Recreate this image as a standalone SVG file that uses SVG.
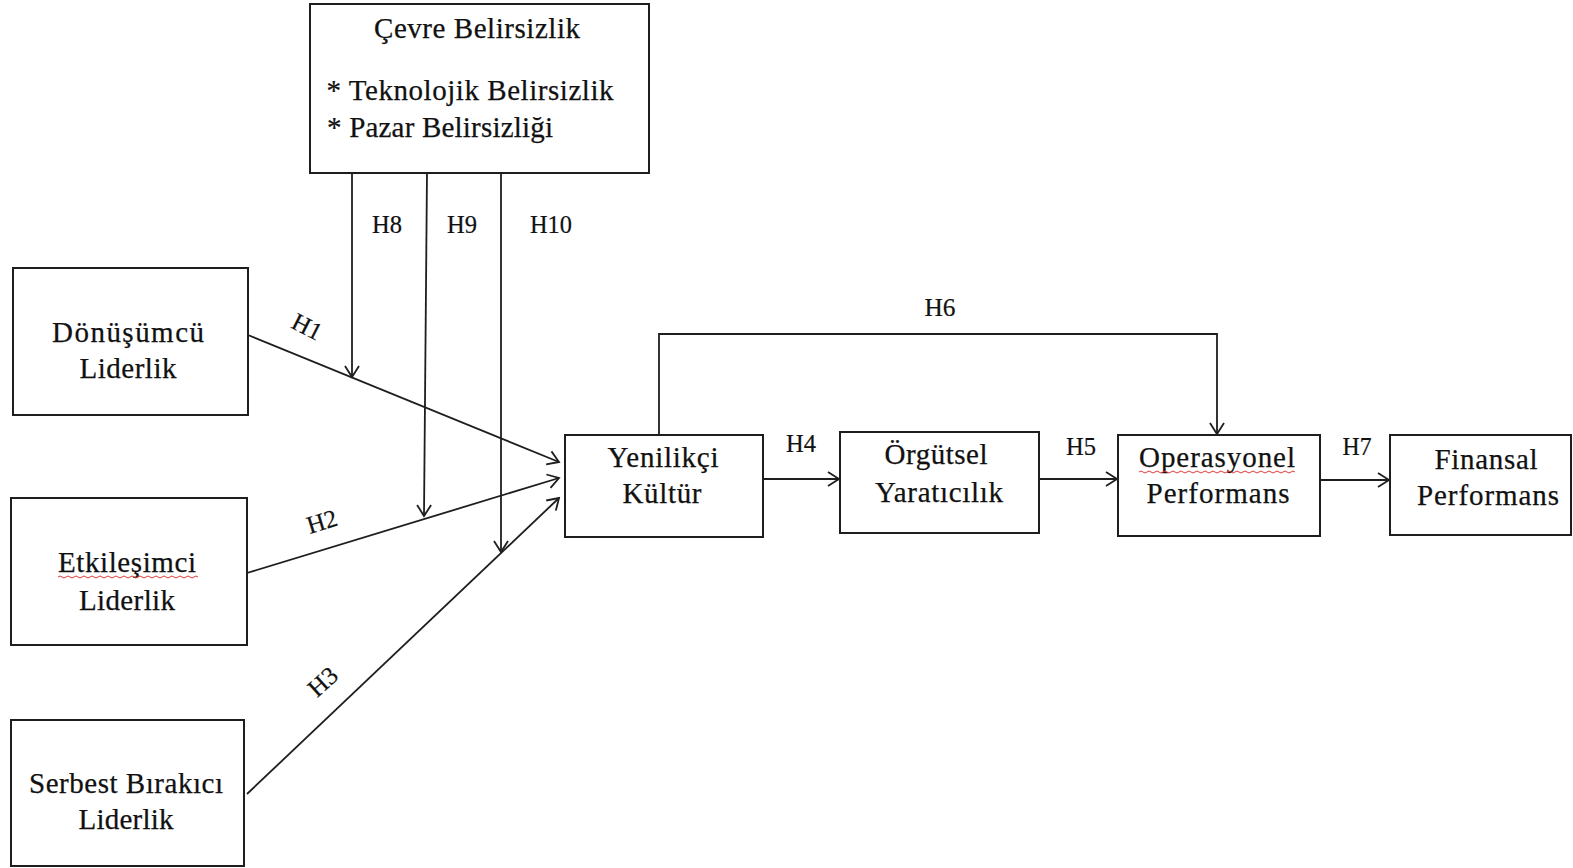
<svg xmlns="http://www.w3.org/2000/svg" width="1573" height="868" viewBox="0 0 1573 868">
  <style>
    .box { fill: #ffffff; stroke: #1e1e1e; stroke-width: 2; }
    .lbl { font-family: "Liberation Serif", "Times New Roman", serif; font-size: 29px; fill: #111111; stroke: #111111; stroke-width: 0.25; text-anchor: middle; }
    .hyp { font-family: "Liberation Serif", "Times New Roman", serif; font-size: 25px; fill: #111111; stroke: #111111; stroke-width: 0.2; text-anchor: middle; }
    .wire { fill: none; stroke: #1e1e1e; stroke-width: 1.8; }
    .spell { fill: none; stroke: #e03a3a; stroke-width: 1; }
  </style>
  <defs>
    <marker id="open-arrow" markerUnits="userSpaceOnUse" markerWidth="24" markerHeight="24" refX="12" refY="12" orient="auto" overflow="visible">
      <path d="M1,5 L12,12 L1,19" fill="none" stroke="#1e1e1e" stroke-width="1.8"/>
    </marker>
  </defs>

  <rect width="1573" height="868" fill="#ffffff"/>

  <!-- connectors -->
  <g id="connectors">
    <!-- moderator lines from the environment box -->
    <path class="wire" d="M352,173 L352,377" marker-end="url(#open-arrow)"/>
    <path class="wire" d="M427,173 L424,516" marker-end="url(#open-arrow)"/>
    <path class="wire" d="M501,173 L501,552" marker-end="url(#open-arrow)"/>
    <!-- leadership styles into innovative culture -->
    <path class="wire" d="M248,335 L559,462" marker-end="url(#open-arrow)"/>
    <path class="wire" d="M247,573 L559,478" marker-end="url(#open-arrow)"/>
    <path class="wire" d="M247,794 L559,498" marker-end="url(#open-arrow)"/>
    <!-- main chain -->
    <path class="wire" d="M763,479 L839,479" marker-end="url(#open-arrow)"/>
    <path class="wire" d="M1039,479 L1117,479" marker-end="url(#open-arrow)"/>
    <path class="wire" d="M1320,480 L1389,480" marker-end="url(#open-arrow)"/>
    <!-- H6 bypass -->
    <path class="wire" d="M659,435 L659,334 L1217,334 L1217,434" marker-end="url(#open-arrow)"/>

    <!-- hypothesis labels -->
    <text class="hyp" x="387" y="233" textLength="30" lengthAdjust="spacingAndGlyphs">H8</text>
    <text class="hyp" x="462" y="233" textLength="30" lengthAdjust="spacingAndGlyphs">H9</text>
    <text class="hyp" x="551" y="233" textLength="42" lengthAdjust="spacingAndGlyphs">H10</text>
    <text class="hyp" transform="translate(307,327) rotate(27)" x="0" y="8">H1</text>
    <text class="hyp" transform="translate(322,522) rotate(-17)" x="0" y="8">H2</text>
    <text class="hyp" transform="translate(323,682) rotate(-42)" x="0" y="8">H3</text>
    <text class="hyp" x="801" y="452" textLength="30" lengthAdjust="spacingAndGlyphs">H4</text>
    <text class="hyp" x="1081" y="455" textLength="30" lengthAdjust="spacingAndGlyphs">H5</text>
    <text class="hyp" x="940" y="316" textLength="31" lengthAdjust="spacingAndGlyphs">H6</text>
    <text class="hyp" x="1357" y="455" textLength="29" lengthAdjust="spacingAndGlyphs">H7</text>
  </g>

  <!-- environmental uncertainty (moderator) -->
  <g id="cevre-belirsizlik">
    <rect class="box" x="310" y="4" width="339" height="169"/>
    <text class="lbl" x="477" y="38" textLength="206" lengthAdjust="spacing">Çevre Belirsizlik</text>
    <text class="lbl" x="470" y="100" textLength="287" lengthAdjust="spacing">* Teknolojik Belirsizlik</text>
    <text class="lbl" x="440" y="137" textLength="226" lengthAdjust="spacing">* Pazar Belirsizliği</text>
  </g>

  <g id="donusumcu-liderlik">
    <rect class="box" x="13" y="268" width="235" height="147"/>
    <text class="lbl" x="128" y="342" textLength="152" lengthAdjust="spacing">Dönüşümcü</text>
    <text class="lbl" x="128" y="378" textLength="97" lengthAdjust="spacing">Liderlik</text>
  </g>

  <g id="etkilesimci-liderlik">
    <rect class="box" x="11" y="498" width="236" height="147"/>
    <text class="lbl" x="127" y="572" textLength="138" lengthAdjust="spacing">Etkileşimci</text>
    <path class="spell" d="M58,577 q2,-2 4,0 t4,0 t4,0 t4,0 t4,0 t4,0 t4,0 t4,0 t4,0 t4,0 t4,0 t4,0 t4,0 t4,0 t4,0 t4,0 t4,0 t4,0 t4,0 t4,0 t4,0 t4,0 t4,0 t4,0 t4,0 t4,0 t4,0 t4,0 t4,0 t4,0 t4,0 t4,0 t4,0 t4,0 t4,0"/>
    <text class="lbl" x="127" y="610" textLength="96" lengthAdjust="spacing">Liderlik</text>
  </g>

  <g id="serbest-birakici-liderlik">
    <rect class="box" x="11" y="720" width="233" height="146"/>
    <text class="lbl" x="126" y="793" textLength="194" lengthAdjust="spacing">Serbest Bırakıcı</text>
    <text class="lbl" x="126" y="829" textLength="95" lengthAdjust="spacing">Liderlik</text>
  </g>

  <g id="yenilikci-kultur">
    <rect class="box" x="565" y="435" width="198" height="102"/>
    <text class="lbl" x="663" y="467" textLength="111" lengthAdjust="spacing">Yenilikçi</text>
    <text class="lbl" x="662" y="503" textLength="79" lengthAdjust="spacing">Kültür</text>
  </g>

  <g id="orgutsel-yaraticilik">
    <rect class="box" x="840" y="432" width="199" height="101"/>
    <text class="lbl" x="936" y="464" textLength="103" lengthAdjust="spacing">Örgütsel</text>
    <text class="lbl" x="939" y="502" textLength="128" lengthAdjust="spacing">Yaratıcılık</text>
  </g>

  <g id="operasyonel-performans">
    <rect class="box" x="1118" y="435" width="202" height="101"/>
    <text class="lbl" x="1217" y="467" textLength="156" lengthAdjust="spacing">Operasyonel</text>
    <path class="spell" d="M1139,472 q2,-2 4,0 t4,0 t4,0 t4,0 t4,0 t4,0 t4,0 t4,0 t4,0 t4,0 t4,0 t4,0 t4,0 t4,0 t4,0 t4,0 t4,0 t4,0 t4,0 t4,0 t4,0 t4,0 t4,0 t4,0 t4,0 t4,0 t4,0 t4,0 t4,0 t4,0 t4,0 t4,0 t4,0 t4,0 t4,0 t4,0 t4,0 t4,0 t4,0"/>
    <text class="lbl" x="1218" y="503" textLength="143" lengthAdjust="spacing">Performans</text>
  </g>

  <g id="finansal-performans">
    <rect class="box" x="1390" y="435" width="181" height="100"/>
    <text class="lbl" x="1486" y="469" textLength="103" lengthAdjust="spacing">Finansal</text>
    <text class="lbl" x="1488" y="505" textLength="142" lengthAdjust="spacing">Performans</text>
  </g>
</svg>
